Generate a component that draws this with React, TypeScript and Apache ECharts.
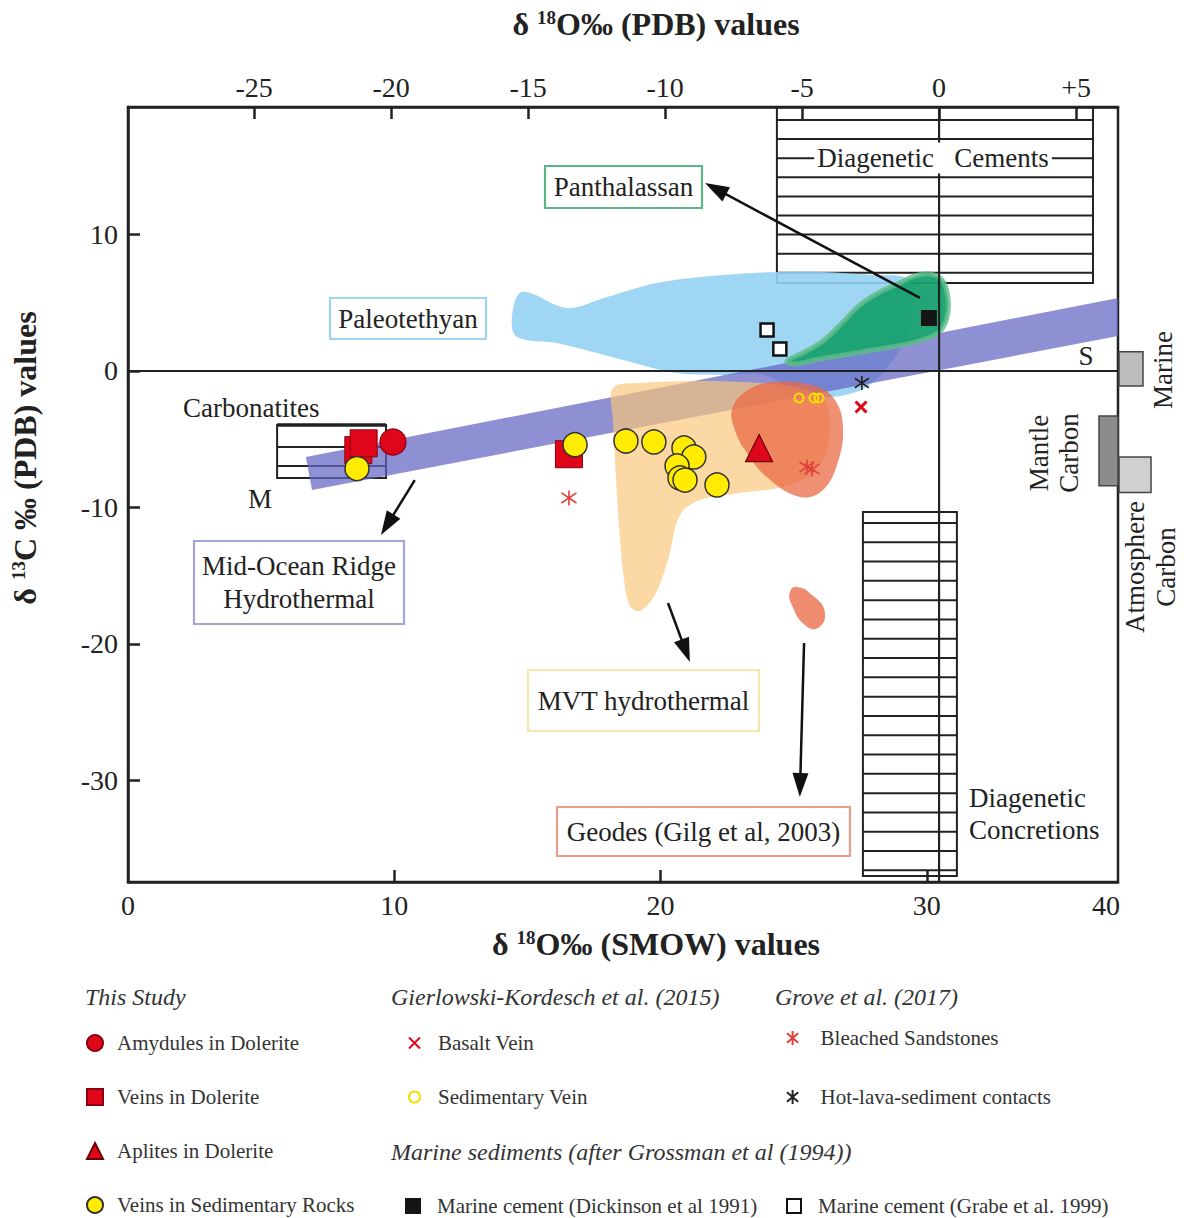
import React, { useEffect, useRef } from 'react';
import * as echarts from 'echarts';

const SERIF = '"Liberation Serif", "Times New Roman", Times, serif';
const INK = '#222';

// Axis extents: δ18O SMOW along the bottom, δ18O PDB along the top, δ13C PDB up the side
const SMOW_MIN = 0;
const SMOW_MAX = 37.18;
const PDB_MIN = -29.6;
const PDB_MAX = 6.53;
const C13_MIN = -37.44;
const C13_MAX = 19.34;

const smowTickValues = [10, 20, 30];
const smowLabelValues = [0, 10, 20, 30];
const pdbTickValues = [-25, -20, -15, -10, -5, 0, 5];
const c13TickValues = [-30, -20, -10, 0, 10];

// This study  [δ18O SMOW, δ13C PDB]
const amygdulesDolerite = [[9.95, -5.2]];
const veinsDolerite = [[8.65, -5.8], [8.85, -5.3], [16.56, -6.1]];
const aplitesDolerite = [[23.7, -5.65]];
const veinsSedimentary = [
  [8.6, -7.15], [16.79, -5.4], [18.7, -5.13], [19.75, -5.2], [20.88, -5.64],
  [21.25, -6.3], [20.62, -6.96], [20.73, -7.84], [20.92, -7.99], [22.12, -8.35],
];
// Gierlowski-Kordesch et al. (2015)
const basaltVein = [[27.53, -2.64]];
const sedimentaryVein = [[25.2, -1.98], [25.76, -1.98], [25.95, -1.98]];
// Grove et al. (2017)
const bleachedSandstones = [[16.56, -9.3], [25.5, -7.03], [25.69, -7.18]];
const hotLavaContacts = [[27.56, -0.88]];
// Marine sediments (after Grossman et al. 1994)
const cementDickinson = [[30.08, 3.88]];
const cementGrabe = [[24.0, 3.0], [24.48, 1.61]];

// Outlined fields
const paleotethyanField = [
  [14.8, 5.79], [16.49, 4.62], [17.99, 5.42], [19.86, 6.45], [22.34, 7.03], [24.37, 7.25],
  [26.1, 7.25], [27.98, 7.03], [29.25, 6.81], [29.55, 5.57], [29.18, 2.27], [28.43, 0.07],
  [27.68, -1.25], [26.74, -1.83], [25.8, -1.9], [25.05, -1.54], [24.48, -0.81], [23.73, -0.22],
  [22.34, -0.29], [20.62, -0.15], [18.59, 0.81], [16.11, 2.05], [14.61, 2.49], [14.42, 3.96],
];
const panthalassanField = [
  [24.75, 0.73], [25.42, 1.39], [26.1, 2.2], [26.74, 3.37], [27.49, 4.84], [28.24, 5.79],
  [28.99, 6.45], [29.55, 6.96], [30.12, 7.11], [30.57, 6.67], [30.79, 5.42], [30.75, 3.88],
  [30.42, 2.78], [29.55, 2.12], [28.43, 1.68], [27.11, 1.25], [25.8, 0.81], [25.05, 0.51],
];
const mvtField = [
  [18.21, -1.25], [19.23, -0.88], [21.48, -0.73], [23.73, -0.88], [25.23, -1.25], [26.17, -2.12],
  [26.36, -4.32], [25.99, -6.89], [24.86, -8.35], [22.98, -8.94], [21.48, -9.45], [20.73, -10.55],
  [20.28, -13.85], [19.79, -16.41], [19.23, -17.58], [18.85, -17.22], [18.63, -15.31],
  [18.48, -12.38], [18.33, -7.99], [18.21, -3.59],
];
const geodesField = [
  [24.22, -0.81], [23.17, -1.54], [22.68, -2.86], [22.79, -4.32], [23.17, -5.79], [23.99, -7.77],
  [25.23, -9.23], [26.1, -8.72], [26.66, -6.67], [26.85, -4.1], [26.55, -2.12], [25.8, -1.1],
];
const geodesOutlier = [
  [25.12, -15.82], [25.69, -16.41], [26.17, -17.66], [25.91, -18.83], [25.42, -18.61],
  [24.93, -17.14], [24.86, -16.19],
];
const midOceanRidgeBand = [[6.68, -6.3], [37.18, 5.35], [37.18, 2.56], [6.91, -8.72]];

// Hatched fields: [xFrom, xTo, yFrom, yTo]
const cementsField = [24.37, 36.24, 6.45, C13_MAX];
const concretionsField = [27.6, 31.13, -37.0, -10.33];
const carbonatitesField = [5.6, 9.69, -7.84, -3.96];

// Pointer arrows: [xFrom, yFrom, xTo, yTo]
const pointerArrows = [
  [29.74, 5.35, 21.67, 13.77],
  [10.77, -8.0, 9.5, -12.01],
  [20.28, -17.0, 21.1, -21.32],
  [25.39, -19.93, 25.23, -31.21],
];

// Carbon reservoirs beside the right axis (δ13C ranges)
const reservoirNames = ['Marine', 'Mantle Carbon', 'Atmosphere Carbon'];
const reservoirTop = [1.4, -3.3, -6.3];
const reservoirBottom = [-1.1, -8.4, -8.9];

const CROSS = 'path://M0,0L10,10M10,0L0,10';
const STAR = 'path://M5,0L5,10M1,1.6L9,8.4M9,1.6L1,8.4';

function fieldSeries(name: string, pts: number[][], fill: string, opacity: number, z: number, smooth: number, extra: any = {}) {
  return {
    type: 'custom',
    name,
    coordinateSystem: 'cartesian2d',
    silent: true,
    clip: false,
    z,
    data: [[0, 0]],
    renderItem: (_p: any, api: any) => ({
      type: 'polygon',
      shape: { points: pts.map((p) => api.coord(p)), smooth },
      style: { fill, opacity, ...extra },
    }),
  };
}

function hatchSeries(name: string, field: number[], firstGap: number, step: number, topWidth: number) {
  return {
    type: 'custom',
    name,
    coordinateSystem: 'cartesian2d',
    silent: true,
    clip: false,
    z: 1,
    data: [[0, 0]],
    renderItem: (_p: any, api: any) => {
      const tl = api.coord([field[0], field[3]]);
      const br = api.coord([field[1], field[2]]);
      const children: any[] = [
        {
          type: 'rect',
          shape: { x: tl[0], y: tl[1], width: br[0] - tl[0], height: br[1] - tl[1] },
          style: { fill: 'none', stroke: INK, lineWidth: 2 },
        },
      ];
      for (let y = tl[1] + firstGap; y < br[1] - 5; y += step) {
        children.push({ type: 'line', shape: { x1: tl[0], y1: y, x2: br[0], y2: y }, style: { stroke: INK, lineWidth: 2 } });
      }
      if (topWidth > 2) {
        children.push({ type: 'line', shape: { x1: tl[0], y1: tl[1], x2: br[0], y2: tl[1] }, style: { stroke: INK, lineWidth: topWidth } });
      }
      return { type: 'group', children };
    },
  };
}

function scatter(name: string, data: number[][], symbol: string, size: number, itemStyle: any) {
  return { type: 'scatter', name, data, symbol, symbolSize: size, itemStyle: { opacity: 1, ...itemStyle }, z: 10, silent: true };
}

function text(x: number, y: number, str: string, extra: any = {}, rest: any = {}) {
  return {
    type: 'text',
    x,
    y,
    z: 100,
    ...rest,
    style: {
      text: str,
      fill: INK,
      fontFamily: SERIF,
      fontSize: 27,
      align: 'center',
      verticalAlign: 'middle',
      ...extra,
    },
  };
}

function boxedLabel(x: number, y: number, w: number, h: number, str: string, stroke: string, lineHeight = 33) {
  return [
    { type: 'rect', z: 99, shape: { x, y, width: w, height: h }, style: { fill: 'none', stroke, lineWidth: 2.2 } },
    text(x + w / 2, y + h / 2, str, { lineHeight }),
  ];
}

function titleRich(size: number) {
  return {
    a: { fontFamily: SERIF, fontSize: size, fontWeight: 'bold', fill: INK },
    s: { fontFamily: SERIF, fontSize: Math.round(size * 0.6), fontWeight: 'bold', fill: INK, verticalAlign: 'top' },
  };
}

function buildOption() {
  const axisLineStyle = { color: INK, width: 2.5 };
  const tickLabel = { fontFamily: SERIF, fontSize: 28, color: INK };

  const legendBase = {
    orient: 'vertical',
    selectedMode: false,
    padding: 0,
    textStyle: { fontFamily: SERIF, fontSize: 21, color: '#333', lineHeight: 22 },
  };
  const heading = { align: 'left', fontStyle: 'italic', fontSize: 24, fill: '#333' };

  const graphic: any[] = [
    // axis titles
    text(656, 24, '{a|δ }{s|18}{a|O‰ (PDB) values}', { rich: titleRich(32) }),
    text(656, 944, '{a|δ }{s|18}{a|O‰ (SMOW) values}', { rich: titleRich(32) }),
    text(25, 458, '{a|δ }{s|13}{a|C ‰ (PDB) values}', { rich: titleRich(32) }, { rotation: Math.PI / 2 }),
    text(1106, 905, '40', { fontSize: 28 }),
    // field annotations
    text(183, 408, 'Carbonatites', { align: 'left' }),
    text(260, 499, 'M'),
    text(1086, 356, 'S'),
    text(933, 158, 'Diagenetic   Cements', { backgroundColor: '#fff', padding: [2, 3, 2, 3] }),
    text(969, 814, 'Diagenetic\nConcretions', { align: 'left', lineHeight: 32 }),
    ...boxedLabel(545, 166, 157, 42, 'Panthalassan', '#5db584'),
    ...boxedLabel(330, 298, 156, 41, 'Paleotethyan', '#9dd6ee'),
    ...boxedLabel(194, 541, 210, 83, 'Mid-Ocean Ridge\nHydrothermal', '#a4a4db'),
    ...boxedLabel(528, 670, 231, 61, 'MVT hydrothermal', '#f6e6ab'),
    ...boxedLabel(557, 807, 293, 49, 'Geodes (Gilg et al, 2003)', '#e99f8b'),
    // reservoir labels
    text(1163, 370, 'Marine', {}, { rotation: Math.PI / 2 }),
    text(1054, 453, 'Mantle\nCarbon', { lineHeight: 30 }, { rotation: Math.PI / 2 }),
    text(1150, 567, 'Atmosphere\nCarbon', { lineHeight: 31 }, { rotation: Math.PI / 2 }),
    // legend group headings
    text(85, 997, 'This Study', heading),
    text(391, 997, 'Gierlowski-Kordesch et al. (2015)', heading),
    text(775, 997, 'Grove et al. (2017)', heading),
    text(391, 1152, 'Marine sediments (after Grossman et al (1994))', heading),
  ];

  return {
    animation: false,
    backgroundColor: '#fff',
    textStyle: { fontFamily: SERIF },
    grid: {
      left: 128,
      top: 107,
      width: 990,
      height: 775,
      show: true,
      borderColor: INK,
      borderWidth: 2.5,
      backgroundColor: 'transparent',
      containLabel: false,
      outerBoundsMode: 'none',
    },
    xAxis: [
      {
        type: 'value',
        position: 'bottom',
        min: SMOW_MIN,
        max: SMOW_MAX,
        splitLine: { show: false },
        axisLine: { show: true, onZero: false, lineStyle: axisLineStyle },
        axisTick: { show: true, inside: true, length: 12, lineStyle: axisLineStyle, customValues: smowTickValues },
        axisLabel: { ...tickLabel, margin: 9, customValues: smowLabelValues },
      },
      {
        type: 'value',
        position: 'top',
        min: PDB_MIN,
        max: PDB_MAX,
        splitLine: { show: false },
        axisLine: { show: true, onZero: false, lineStyle: axisLineStyle },
        axisTick: { show: true, inside: true, length: 12, lineStyle: axisLineStyle, customValues: pdbTickValues },
        axisLabel: {
          ...tickLabel,
          margin: 6,
          customValues: pdbTickValues,
          formatter: (v: number) => (v > 0 ? '+' + v : String(v)),
        },
      },
    ],
    yAxis: {
      type: 'value',
      min: C13_MIN,
      max: C13_MAX,
      splitLine: { show: false },
      axisLine: { show: true, onZero: false, lineStyle: axisLineStyle },
      axisTick: { show: true, inside: true, length: 12, lineStyle: axisLineStyle, customValues: c13TickValues },
      axisLabel: { ...tickLabel, margin: 10, customValues: c13TickValues },
    },
    legend: [
      {
        ...legendBase,
        left: 86,
        top: 1032,
        itemWidth: 16,
        itemHeight: 16,
        itemGap: 32,
        textStyle: { ...legendBase.textStyle, padding: [0, 0, 0, 9] },
        data: ['Amydules in Dolerite', 'Veins in Dolerite', 'Aplites in Dolerite', 'Veins in Sedimentary Rocks'],
      },
      {
        ...legendBase,
        left: 408,
        top: 1032,
        itemWidth: 11,
        itemHeight: 11,
        itemGap: 32,
        textStyle: { ...legendBase.textStyle, padding: [0, 0, 0, 13] },
        data: ['Basalt Vein', 'Sedimentary Vein'],
      },
      {
        ...legendBase,
        left: 405,
        top: 1195,
        itemWidth: 16,
        itemHeight: 16,
        textStyle: { ...legendBase.textStyle, padding: [0, 0, 0, 11] },
        data: ['Marine cement (Dickinson et al 1991)'],
      },
      {
        ...legendBase,
        left: 786,
        top: 1027,
        itemWidth: 14,
        itemHeight: 14,
        itemGap: 37,
        textStyle: { ...legendBase.textStyle, padding: [0, 0, 0, 16] },
        data: ['Bleached Sandstones', 'Hot-lava-sediment contacts'],
      },
      {
        ...legendBase,
        left: 786,
        top: 1195,
        itemWidth: 14,
        itemHeight: 14,
        textStyle: { ...legendBase.textStyle, padding: [0, 0, 0, 12] },
        data: ['Marine cement (Grabe et al. 1999)'],
      },
    ],
    graphic,
    series: [
      hatchSeries('Diagenetic cements', cementsField, 13, 19.1, 2),
      hatchSeries('Diagenetic concretions', concretionsField, 11, 19.3, 2),
      hatchSeries('Carbonatites', carbonatitesField, 22, 19, 3.5),
      fieldSeries('Paleotethyan', paleotethyanField, '#93d2f3', 0.9, 2, 0.35),
      fieldSeries('Mid-ocean ridge hydrothermal', midOceanRidgeBand, 'rgb(100,100,195)', 0.72, 3, 0),
      fieldSeries('MVT hydrothermal', mvtField, '#fbc57a', 0.68, 4, 0.35),
      fieldSeries('Geodes', geodesField, '#ea6a45', 0.75, 5, 0.4),
      fieldSeries('Geodes outlier', geodesOutlier, '#ea6a45', 0.78, 5, 0.5),
      fieldSeries('Panthalassan', panthalassanField, '#17a070', 0.95, 6, 0.35, {
        stroke: 'rgba(95,188,138,0.85)',
        lineWidth: 5,
      }),
      {
        type: 'custom',
        name: 'reference lines',
        coordinateSystem: 'cartesian2d',
        xAxisIndex: 1,
        silent: true,
        clip: false,
        z: 7,
        data: [[0, 0]],
        renderItem: (_p: any, api: any) => {
          const top = api.coord([0, C13_MAX]);
          const bottom = api.coord([0, C13_MIN]);
          const left = api.coord([PDB_MIN, 0]);
          const right = api.coord([PDB_MAX, 0]);
          return {
            type: 'group',
            children: [
              { type: 'line', shape: { x1: top[0], y1: top[1], x2: bottom[0], y2: bottom[1] }, style: { stroke: INK, lineWidth: 2.2 } },
              { type: 'line', shape: { x1: left[0], y1: left[1], x2: right[0], y2: right[1] }, style: { stroke: INK, lineWidth: 2.2 } },
            ],
          };
        },
      },
      {
        type: 'custom',
        name: 'pointers',
        coordinateSystem: 'cartesian2d',
        silent: true,
        clip: false,
        z: 8,
        data: pointerArrows,
        renderItem: (_p: any, api: any) => {
          const a = api.coord([api.value(0), api.value(1)]);
          const b = api.coord([api.value(2), api.value(3)]);
          const dx = b[0] - a[0];
          const dy = b[1] - a[1];
          const len = Math.sqrt(dx * dx + dy * dy);
          const ux = dx / len;
          const uy = dy / len;
          const head = 24;
          const half = 8;
          const bx = b[0] - ux * head;
          const by = b[1] - uy * head;
          return {
            type: 'group',
            children: [
              { type: 'line', shape: { x1: a[0], y1: a[1], x2: bx + ux * 2, y2: by + uy * 2 }, style: { stroke: '#111', lineWidth: 2.5 } },
              {
                type: 'polygon',
                shape: { points: [[b[0], b[1]], [bx - uy * half, by + ux * half], [bx + uy * half, by - ux * half]] },
                style: { fill: '#111' },
              },
            ],
          };
        },
      },
      {
        type: 'custom',
        name: 'carbon reservoirs',
        coordinateSystem: 'cartesian2d',
        silent: true,
        clip: false,
        z: 8,
        data: reservoirNames.map((_n, i) => [SMOW_MAX, reservoirTop[i], reservoirBottom[i]]),
        renderItem: (p: any, api: any) => {
          const spans = [[1, 25], [-19, 0], [1, 33]];
          const fills = ['#bdbdbd', '#8c8c8c', '#d0d0d0'];
          const t = api.coord([api.value(0), api.value(1)]);
          const bt = api.coord([api.value(0), api.value(2)]);
          const s = spans[p.dataIndex];
          return {
            type: 'rect',
            shape: { x: t[0] + s[0], y: t[1], width: s[1] - s[0], height: bt[1] - t[1] },
            style: { fill: fills[p.dataIndex], stroke: '#444', lineWidth: 1.5 },
          };
        },
      },
      scatter('Veins in Dolerite', veinsDolerite, 'rect', 27, { color: '#e0061a', borderColor: '#8a0010', borderWidth: 1 }),
      scatter('Amydules in Dolerite', amygdulesDolerite, 'circle', 26, { color: '#e0061a', borderColor: '#8a0010', borderWidth: 1.2 }),
      scatter('Aplites in Dolerite', aplitesDolerite, 'triangle', 27, { color: '#e0061a', borderColor: '#6a0008', borderWidth: 1.2 }),
      scatter('Veins in Sedimentary Rocks', veinsSedimentary, 'circle', 24, { color: '#ffec00', borderColor: '#333', borderWidth: 1.5 }),
      scatter('Basalt Vein', basaltVein, CROSS, 11, { color: 'rgba(0,0,0,0)', borderColor: '#e0061a', borderWidth: 3 }),
      scatter('Sedimentary Vein', sedimentaryVein, 'circle', 9, { color: 'rgba(255,255,255,0)', borderColor: '#f2e000', borderWidth: 2 }),
      scatter('Bleached Sandstones', bleachedSandstones, STAR, 15, { color: 'rgba(0,0,0,0)', borderColor: '#e0413a', borderWidth: 1.6 }),
      scatter('Hot-lava-sediment contacts', hotLavaContacts, STAR, 14, { color: 'rgba(0,0,0,0)', borderColor: '#222', borderWidth: 1.6 }),
      scatter('Marine cement (Dickinson et al 1991)', cementDickinson, 'rect', 16, { color: '#151515' }),
      scatter('Marine cement (Grabe et al. 1999)', cementGrabe, 'rect', 13, { color: '#fff', borderColor: '#111', borderWidth: 2.5 }),
    ],
  };
}

export default function App() {
  const ref = useRef<HTMLDivElement>(null);
  useEffect(() => {
    if (!ref.current) return;
    const chart = echarts.init(ref.current, undefined, { renderer: 'svg' });
    chart.setOption(buildOption() as any);
    return () => chart.dispose();
  }, []);
  return (
    <div
      ref={ref}
      style={{ position: 'absolute', left: 0, top: 0, width: 1184, height: 1218, background: '#fff' }}
    />
  );
}
